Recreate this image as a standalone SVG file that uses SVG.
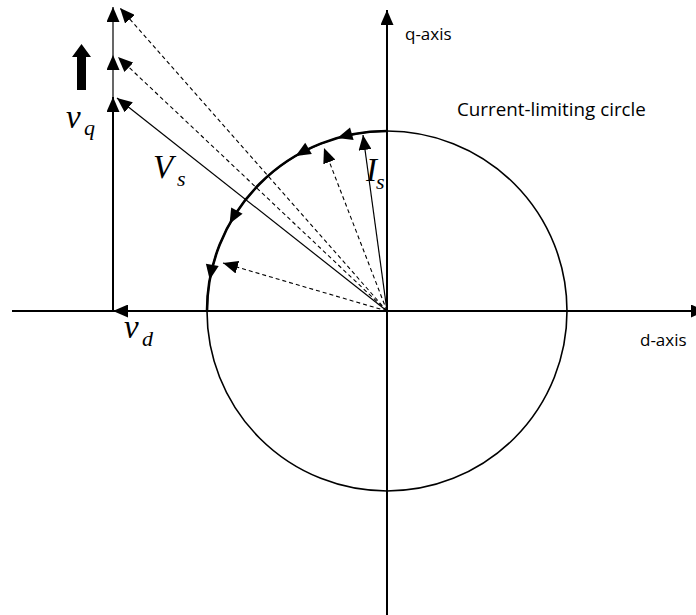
<svg xmlns="http://www.w3.org/2000/svg" xmlns:xlink="http://www.w3.org/1999/xlink" width="696" height="615" viewBox="0 0 696 615">
<style>
.ax{stroke:#000;stroke-width:2;fill:none}
.sol{stroke:#000;stroke-width:1.2;fill:none}
.dash{stroke:#000;stroke-width:1.1;fill:none;stroke-dasharray:4 3}
.math{font-family:"Liberation Serif","DejaVu Serif",serif;font-style:italic;fill:#000}
.lbl{font-family:"Open Sans","Liberation Sans",sans-serif;font-size:17px;fill:#000}
</style>
<defs>
<marker id="ah" markerUnits="userSpaceOnUse" markerWidth="15" markerHeight="13" refX="15" refY="6.5" orient="auto">
<path d="M0,0 L15,6.5 L0,13 Z" fill="#000"/>
</marker>
<polygon id="arc-ah" points="0,0 -15,-6.5 -15,6.5" fill="#000"/>
</defs>
<rect width="696" height="615" fill="#fff"/>
<g id="circle">
<circle cx="387" cy="311" r="180" fill="none" stroke="#000" stroke-width="1.6"/>
<path d="M387,131 A180,180 0 0 0 207,311" fill="none" stroke="#000" stroke-width="2.6"/>
<use xlink:href="#arc-ah" transform="translate(337.4,138) rotate(164)"/>
<use xlink:href="#arc-ah" transform="translate(295.6,155.9) rotate(149.5)"/>
<use xlink:href="#arc-ah" transform="translate(229.6,223.7) rotate(119)"/>
<use xlink:href="#arc-ah" transform="translate(209.7,279.7) rotate(100)"/>
</g>
<g id="axes">
<line class="ax" x1="12" y1="311" x2="706" y2="311" marker-end="url(#ah)"/>
<line class="ax" x1="387" y1="615" x2="387" y2="10" marker-end="url(#ah)"/>
</g>
<g id="connectors">
<line class="ax" x1="387" y1="311" x2="113" y2="311" marker-end="url(#ah)"/>
<line class="ax" x1="113" y1="311" x2="113" y2="97" marker-end="url(#ah)"/>
<line class="sol" x1="113" y1="97" x2="113" y2="55" marker-end="url(#ah)"/>
<line class="sol" x1="113" y1="55" x2="113" y2="7" marker-end="url(#ah)"/>
<line class="sol" x1="387" y1="311" x2="117" y2="98" marker-end="url(#ah)"/>
<line class="dash" x1="387" y1="311" x2="118" y2="57" marker-end="url(#ah)"/>
<line class="dash" x1="387" y1="311" x2="120" y2="8" marker-end="url(#ah)"/>
<line class="sol" x1="387" y1="311" x2="363" y2="135" marker-end="url(#ah)"/>
<line class="dash" x1="387" y1="311" x2="324" y2="148" marker-end="url(#ah)"/>
<line class="dash" x1="387" y1="311" x2="223" y2="263" marker-end="url(#ah)"/>
</g>
<g id="up-arrow">
<polygon points="77,90 86,90 86,57 91,57 81.5,44 72,57 77,57" fill="#000"/>
</g>
<g id="labels">
<text class="math" x="66" y="128" font-size="33">v</text>
<text class="math" x="84" y="135" font-size="22">q</text>
<text class="math" x="153" y="178" font-size="33">V</text>
<text class="math" x="177" y="186" font-size="22">s</text>
<text class="math" x="124" y="338" font-size="33">v</text>
<text class="math" x="142" y="346" font-size="22">d</text>
<text class="math" x="366" y="181" font-size="33">I</text>
<text class="math" x="376" y="189" font-size="22">s</text>
<text class="lbl" x="405" y="40">q-axis</text>
<text class="lbl" x="457" y="116" style="font-size:18.8px">Current-limiting circle</text>
<text class="lbl" x="640" y="346">d-axis</text>
</g>
</svg>
